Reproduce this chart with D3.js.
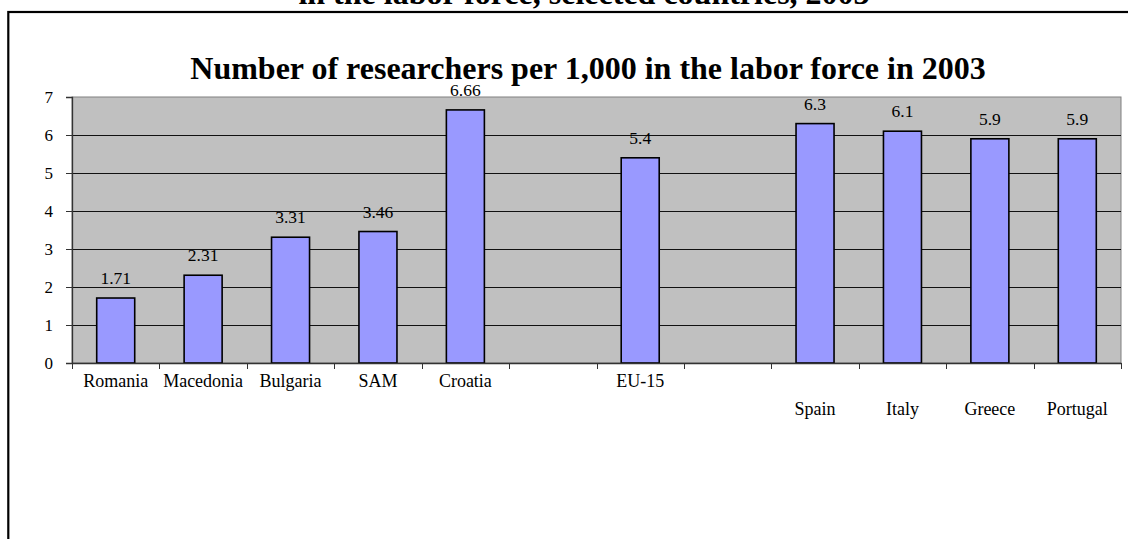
<!DOCTYPE html>
<html>
<head>
<meta charset="utf-8">
<script src="https://cdn.jsdelivr.net/npm/d3@7"></script>
<style>
  html, body { margin: 0; padding: 0; background: #fff; }
  svg { display: block; }
  svg text { font-family: "Liberation Serif", "Times New Roman", serif !important; fill: #000; }
</style>
</head>
<body>
<svg id="chart" width="1128" height="539"></svg>
<script>
// Category slots along the x axis; empty strings are blank spacer slots.
// A leading "\n" pushes a label down to the second row.
const categories = ["Romania", "Macedonia", "Bulgaria", "SAM", "Croatia", "",
                    "EU-15", "", "\nSpain", "\nItaly", "\nGreece", "\nPortugal"];
// Researchers per 1,000 in the labor force (null = no bar in that slot)
const values = [1.71, 2.31, 3.31, 3.46, 6.66, null, 5.4, null, 6.3, 6.1, 5.9, 5.9];
const yTicks = [0, 1, 2, 3, 4, 5, 6, 7];

const chartTitle = "Number of researchers per 1,000 in the labor force in 2003";
const captionTail = "in the labor force, selected countries, 2003";

const svg = d3.select("#chart");
const W = 1128;
const serif = "'Liberation Serif', 'Times New Roman', serif";

const plot = { left: 72, right: 1121, top: 97, bottom: 363 };

const keys = categories.map((c, i) => i);
const x = d3.scaleBand().domain(keys).range([plot.left, plot.right]).paddingInner(0).paddingOuter(0);
const y = d3.scaleLinear().domain([0, 7]).range([plot.bottom, plot.top]);
const barW = x.bandwidth() / 2.3;

// Caption text running off the top edge
svg.append("text")
  .attr("x", 584).attr("y", 4)
  .attr("text-anchor", "middle")
  .style("font-family", serif)
  .style("font-size", "32px").style("font-weight", "bold")
  .text(captionTail);

// Chart frame
svg.append("rect")
  .attr("x", 8.3).attr("y", 12)
  .attr("width", W + 20).attr("height", 600)
  .attr("fill", "#fff").attr("stroke", "#000").attr("stroke-width", 2.2);

// Chart title
svg.append("text")
  .attr("x", 588).attr("y", 79)
  .attr("text-anchor", "middle")
  .style("font-family", serif)
  .style("font-size", "32px").style("font-weight", "bold")
  .text(chartTitle);

// Plot area background
svg.append("rect")
  .attr("x", plot.left).attr("y", plot.top)
  .attr("width", plot.right - plot.left).attr("height", plot.bottom - plot.top)
  .attr("fill", "#c0c0c0").attr("stroke", "#808080").attr("stroke-width", 1);

// Horizontal gridlines
svg.append("g")
  .selectAll("line")
  .data(yTicks.filter(t => t > 0 && t < 7))
  .join("line")
  .attr("x1", plot.left).attr("x2", plot.right)
  .attr("y1", d => Math.round(y(d)) + 0.5).attr("y2", d => Math.round(y(d)) + 0.5)
  .attr("stroke", "#111").attr("stroke-width", 1);

const barData = values.map((v, i) => ({ v, i })).filter(d => d.v !== null);

// Bars
svg.append("g")
  .selectAll("rect")
  .data(barData)
  .join("rect")
  .attr("x", d => x(d.i) + x.bandwidth() / 2 - barW / 2)
  .attr("y", d => y(d.v))
  .attr("width", barW)
  .attr("height", d => y(0) - y(d.v))
  .attr("fill", "#9999ff")
  .attr("stroke", "#000").attr("stroke-width", 1.6);

// Value labels
svg.append("g")
  .selectAll("text")
  .data(barData)
  .join("text")
  .attr("x", d => x(d.i) + x.bandwidth() / 2)
  .attr("y", d => y(d.v) - 14)
  .attr("text-anchor", "middle")
  .style("font-family", serif)
  .style("font-size", "17.5px")
  .text(d => d.v);

// Y axis
const yAxis = svg.append("g")
  .attr("transform", `translate(${plot.left},0)`)
  .call(d3.axisLeft(y).tickValues(yTicks).tickSize(6).tickPadding(13).tickFormat(d3.format("d")));
yAxis.attr("font-family", null);
yAxis.select(".domain").attr("stroke", "#333").attr("stroke-width", 1.3);
yAxis.selectAll(".tick line").attr("stroke", "#333");
yAxis.selectAll(".tick text")
  .style("font-size", "17px")
  .style("font-family", serif)
  .attr("fill", "#000");

// X axis line with ticks on slot boundaries
const xAxis = svg.append("g")
  .attr("transform", `translate(0,${plot.bottom})`)
  .call(d3.axisBottom(x).tickSize(0).tickFormat(""));
xAxis.select(".domain").attr("stroke", "#333").attr("stroke-width", 1.3);

const bounds = d3.range(categories.length + 1).map(i => plot.left + i * x.step());
svg.append("g")
  .selectAll("line")
  .data(bounds)
  .join("line")
  .attr("x1", d => Math.round(d) + 0.5).attr("x2", d => Math.round(d) + 0.5)
  .attr("y1", plot.bottom).attr("y2", plot.bottom + 6)
  .attr("stroke", "#333").attr("stroke-width", 1);

// Category labels (one or two rows)
const labels = svg.append("g")
  .selectAll("text")
  .data(categories.map((c, i) => ({ c, i })).filter(d => d.c.trim() !== ""))
  .join("text")
  .attr("x", d => x(d.i) + x.bandwidth() / 2)
  .attr("y", plot.bottom + 24)
  .attr("text-anchor", "middle")
  .style("font-family", serif)
  .style("font-size", "18px");

labels.each(function(d) {
  const lines = d.c.split("\n");
  const t = d3.select(this);
  lines.forEach((line, k) => {
    t.append("tspan")
      .attr("x", x(d.i) + x.bandwidth() / 2)
      .attr("dy", k === 0 ? 0 : 28)
      .text(line);
  });
});
</script>
</body>
</html>
